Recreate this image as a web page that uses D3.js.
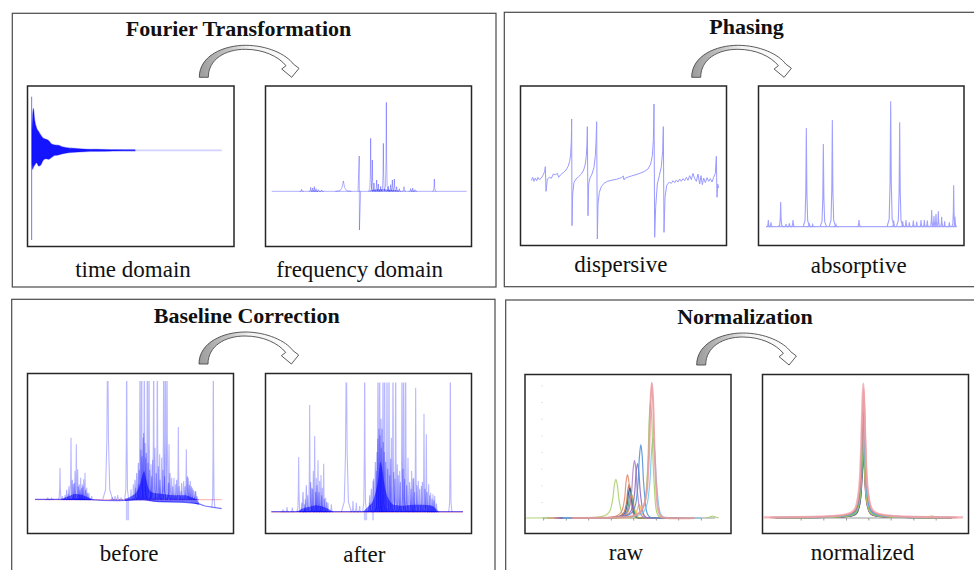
<!DOCTYPE html>
<html>
<head>
<meta charset="utf-8">
<script src="https://cdn.jsdelivr.net/npm/d3@7"></script>
<style>
  body { margin: 0; background: #fff; }
  text { font-family: "Liberation Serif", "Times New Roman", serif; fill: #111; }
</style>
</head>
<body>
<div id="chart"></div>
<script>
// ---------- data ----------
// time domain FID: envelope of the decaying signal (t in ms)
var fidTime  = [2, 6, 10, 18, 30, 42, 54, 70, 86, 102, 120, 140, 160, 180, 210, 250, 310, 390, 490, 620]
var fidUpper = [60, 101, 126, 91, 66, 56, 46, 36, 33, 29, 19, 16, 15, 11, 8, 6, 4, 3, 2, 1.5]
var fidLower = [-40, -57, -51, -44, -37, -47, -44, -29, -25, -27, -21, -15, -14, -11, -8, -6, -4, -3, -2, -1.5]
var fidSpike = [0, 161, -269]
var fidTail = [490, 1140]

// frequency domain (x in Hz, intensity a.u.) [position, height, half width]
var freqRange = [5950, 100]
var freqPeaks = [[5050, 6], [4780, 12], [4720, 10], [4670, 14], [4620, 8], [4550, 5], [4450, 4],
  [3800, 31, 40], [2980, 159], [2930, 94], [2880, 25], [2800, 34], [2750, 22], [2680, 15],
  [2600, 144], [2510, 267], [2450, 15], [2380, 20], [2330, 34], [2270, 37], [2200, 14],
  [2120, 8], [1980, 14], [1780, 8], [1720, 10], [1650, 5], [1070, 37]]
var freqDispersive = [[3320, 106, -116]]
var freqClusterX = [3050, 2950, 2800, 2600, 2400, 2200, 2050]
var freqClusterI = [0, 4, 6, 7, 5, 3, 0]

// phasing: dispersive trace [Hz, intensity]
var dispersiveTrace = [[5900, -2], [5860, 8], [5820, -4], [5780, 6], [5740, -2], [5700, 8], [5660, 1],
  [5600, 6], [5540, 16], [5500, 26], [5480, 40], [5460, -34], [5420, 3], [5360, 8], [5300, 5],
  [5240, 18], [5180, 16], [5120, 20], [5080, 8], [5020, 16], [4940, 22], [4860, 30], [4800, 40],
  [4750, 56], [4720, 78], [4700, 118], [4690, 183], [4680, -137], [4660, -42], [4620, -7],
  [4560, 3], [4480, 10], [4400, 18], [4330, 30], [4280, 48], [4250, 73], [4230, 108], [4220, 160],
  [4200, -107], [4180, -12], [4140, 6], [4080, 18], [4020, 38], [3980, 73], [3960, 113], [3940, 175],
  [3920, -177], [3900, -72], [3860, -37], [3800, -20], [3720, -10], [3620, -4], [3500, -1],
  [3350, 2], [3200, 7], [3140, 12], [3120, 0], [3080, 6], [2900, 12], [2700, 18], [2520, 25],
  [2400, 33], [2320, 48], [2270, 73], [2240, 118], [2220, 228], [2200, -172], [2170, -82],
  [2120, -12], [2060, 13], [2000, 40], [1960, 88], [1940, 160], [1920, -157], [1890, -52],
  [1840, -17], [1800, -10], [1750, -7], [1700, -10], [1650, -2], [1600, -8], [1550, 0],
  [1500, -6], [1450, 3], [1400, -4], [1350, 4], [1300, -2], [1250, 8], [1200, -1], [1150, 13],
  [1100, 1], [1050, 20], [1000, 4], [950, -4], [900, 18], [850, -12], [810, 13], [770, -14],
  [730, 6], [680, -8], [630, 7], [580, -4], [530, 4], [480, -6], [430, 8], [380, 20], [350, 71],
  [330, -52], [310, -12], [280, -24]]

// phasing: absorptive peaks [Hz, height, half width]
var absRange = [6000, 300]
var absPeaks = [[5930, 20, 10], [5850, 13, 10], [5560, 74, 12], [5400, 8, 12], [5300, 10, 12],
  [5190, 20, 12], [4790, 296, 16], [4700, 10, 12], [4600, 6, 12], [4280, 248, 16], [4010, 320, 16],
  [3900, 6, 12], [3210, 20, 12], [2260, 376, 18], [2170, 18, 12], [1990, 313, 16], [1900, 16, 12],
  [1800, 20, 10], [1700, 13, 10], [1580, 18, 10], [1480, 15, 10], [1350, 20, 10], [1250, 20, 10],
  [1160, 18, 10], [1030, 50, 10], [960, 32, 10], [900, 38, 10], [830, 46, 10], [730, 30, 10],
  [640, 16, 10], [500, 13, 10], [370, 124, 10], [330, 30, 10]]

// baseline correction: before
var beforeBase = [[6000, 1], [5300, 1], [4300, 0], [4000, -2], [3500, -3], [3300, -2], [2800, 0],
  [2300, -6], [1500, -8], [1100, -12], [900, -19], [400, -27]]
var beforeRed = [6000, 400]
var beforeDense = [
  [[5200, 2, 0], [4950, 12, 0], [4800, 17, -1], [4600, 15, -1], [4450, 9, -1], [4300, 3, -1]],
  [[3300, 3, -4], [3100, 11, -2], [2950, 24, 0], [2850, 46, 1], [2780, 72, 1], [2730, 86, 1],
   [2680, 68, 0], [2620, 42, -2], [2520, 24, -4], [2350, 19, -6], [2100, 16, -7], [1800, 13, -7],
   [1500, 13, -8], [1300, 7, -10], [1150, 1, -14], [1080, -10, -16]]]
var beforePeaks = [[5620, 6], [5500, 4], [5250, 96], [5180, 11], [5100, 14], [5000, 16], [4920, 186],
  [4850, 46], [4800, 86], [4760, 166], [4720, 91], [4670, 46], [4630, 66], [4580, 46], [4540, 61],
  [4500, 81], [4450, 36], [4380, 21], [4300, 11], [3820, 500, 25], [3680, 8], [3600, 11], [3520, 14],
  [3420, 6], [3250, 500], [3120, 31], [3050, 46], [2980, 36], [2900, 46], [2850, 500], [2800, 500],
  [2760, 186], [2720, 500], [2680, 126], [2630, 500], [2580, 500], [2520, 106], [2440, 500],
  [2400, 156], [2330, 500], [2260, 136], [2200, 126], [2140, 500], [2090, 500], [2040, 500],
  [1980, 166], [1900, 66], [1830, 66], [1780, 46], [1700, 218], [1620, 26], [1540, 56], [1460, 151],
  [1400, 66], [1340, 56], [1280, 36], [1200, 26], [1140, 11], [650, 500, 8, -24]]
var beforeCluster = [[5050, 30], [4980, 40], [4880, 60], [4820, 50], [4700, 40], [4650, 30], [4600, 35],
  [4560, 40], [4480, 30], [4420, 20], [3000, 60], [2950, 80], [2900, 110], [2870, 90], [2820, 150],
  [2790, 130], [2740, 200], [2700, 170], [2660, 140], [2610, 110], [2560, 90], [2500, 70], [2470, 120],
  [2360, 80], [2300, 100], [2250, 60], [2160, 90], [2110, 70], [2000, 50], [1950, 80], [1870, 40],
  [1750, 60], [1680, 40], [1600, 50], [1500, 40], [1430, 70], [1370, 45], [1310, 40], [1250, 30], [1180, 25]]
var beforeNeg = [[3250, -62], [3200, -62]]

// baseline correction: after
var afterBase = [[6050, 1], [300, 1]]
var afterRed = [6050, 300]
var afterDense = [
  [[5300, 0, 0], [5100, 11, 0], [4900, 16, 0], [4700, 20, 0], [4500, 16, 0], [4300, 7, 0], [4200, 1, 0]],
  [[3300, 1, 0], [3150, 16, 0], [3000, 34, 0], [2900, 68, 0], [2830, 108, 0], [2780, 150, 0],
   [2730, 134, 0], [2670, 92, 0], [2600, 56, 0], [2500, 34, 0], [2350, 21, 0], [2100, 19, 0],
   [1800, 22, 0], [1500, 22, 0], [1300, 20, 0], [1150, 13, 0], [1050, 2, 0]]]
var afterPeaks = [[5700, 8], [5580, 15], [5420, 13], [5230, 165], [5140, 28], [5050, 23], [5030, 38],
  [4900, 321], [4840, 73], [4790, 123], [4750, 228], [4700, 103], [4650, 155], [4600, 93],
  [4560, 111], [4520, 73], [4480, 145], [4420, 43], [4350, 28], [4250, 23], [3800, 500, 25],
  [3600, 33], [3500, 28], [3400, 18], [3250, 500], [3100, 28], [3000, 93], [2900, 123], [2850, 500],
  [2800, 500], [2750, 193], [2700, 500], [2650, 500], [2580, 500], [2520, 500], [2450, 223],
  [2400, 500], [2320, 500], [2270, 143], [2200, 123], [2130, 500], [2080, 500], [2020, 500],
  [1950, 163], [1840, 123], [1780, 103], [1720, 373], [1640, 93], [1550, 78], [1470, 295],
  [1400, 233], [1330, 83], [1270, 58], [1200, 53], [1150, 48], [680, 500, 8]]
var afterCluster = [[5100, 60], [5000, 80], [4960, 50], [4870, 90], [4810, 70], [4720, 60], [4680, 80],
  [4620, 60], [4540, 50], [4460, 40], [4390, 30], [3100, 50], [3050, 70], [2980, 100], [2930, 150],
  [2880, 180], [2860, 220], [2820, 250], [2790, 230], [2760, 280], [2730, 250], [2690, 210],
  [2660, 180], [2620, 150], [2560, 130], [2500, 110], [2470, 160], [2380, 120], [2340, 100],
  [2240, 110], [2180, 90], [2100, 130], [2050, 100], [1990, 80], [1900, 90], [1860, 70], [1800, 100],
  [1750, 60], [1680, 80], [1600, 70], [1520, 90], [1440, 70], [1380, 60], [1300, 50], [1230, 40],
  [1170, 35], [1100, 25]]
var afterNeg = [[3250, -25], [3200, -25], [3000, -25]]

// normalization: raw spectra (one peak each) [centre Hz, height, half width]
var rawCenter = [3500, 3100, 3150, 3080, 3050, 3020, 2800, 2940, 2850, 2750, 2380, 2460, 2420]
var rawHeight = [116, 100, 130, 90, 78, 68, 40, 173, 163, 220, 240, 350, 406]
var rawWidth  = [90, 75, 80, 70, 70, 70, 70, 80, 80, 80, 90, 75, 80]
var rawShapeU = [-16, -6, -3.5, -2.5, -2, -1.5, -1, -0.5, 0, 0.5, 1, 1.5, 2, 3, 4.5, 7, 12, 30]
var rawShapeF = [0, 0, 0.01, 0.05, 0.12, 0.28, 0.5, 0.85, 1, 0.85, 0.5, 0.3, 0.18, 0.09, 0.04, 0.015, 0.005, 0]
var rawAxis = [5700, 520]
var rawTicks = [5680, 5000, 4330, 3650, 2980, 2300, 1630, 950]
var rawYTicks = [398, 348, 298, 248, 198, 148, 98, 48]

// normalization: normalized spectra
var normCenter = [3200, 3195, 3205, 3200, 3210, 3195, 3200, 3205, 3200, 3190, 3200]
var normHeight = [183, 193, 203, 238, 263, 280, 293, 328, 353, 388, 403]
var normWidth  = [60, 60, 60, 58, 58, 58, 60, 60, 62, 64, 68]
var normShapeU = [-44, -20, -10, -6, -4, -3, -2, -1.5, -1, -0.5, 0, 0.5, 1, 1.5, 2, 3, 4, 6, 10, 20, 44]
var normShapeF = [0.004, 0.01, 0.02, 0.035, 0.06, 0.1, 0.2, 0.3, 0.5, 0.8, 1, 0.8, 0.5, 0.3, 0.2, 0.1, 0.06, 0.035, 0.02, 0.01, 0.004]
var normAxis = [5680, 550]
var normTicks = [5080, 4400, 3720, 3050, 2380, 1700, 1030]
var smallBumps = [[600, 6, 60], [1150, 6, 90]]

// shape of a single sharp resonance (offset in half widths, fraction of height)
var spikeU = [-6, -2.5, -1, 0, 1, 2.5, 6]
var spikeF = [0, 0.06, 0.35, 1, 0.35, 0.06, 0]

var titles = ['Fourier Transformation', 'Phasing', 'Baseline Correction', 'Normalization']
var labels = ['time domain', 'frequency domain', 'dispersive', 'absorptive', 'before', 'after', 'raw', 'normalized']

var rawColors = ['#a9d06c', '#b8683e', '#e3876a', '#2f4f8f', '#38a68a', '#f0a23a', '#f5b24a',
  '#a880c8', '#8a66b8', '#4a8fd6', '#6cc8f0', '#9fcc62', '#e8959c']
var normColors = ['#b8683e', '#2f4f8f', '#a880c8', '#38a68a', '#f2c230', '#a9d06c', '#6fb85a',
  '#6cc8f0', '#4a8fd6', '#e0604c', '#f0a8b0']

// ---------- drawing ----------
var svg = d3.select('#chart').append('svg').attr('width', 974).attr('height', 570)
var defs = svg.append('defs')

var grad = defs.append('linearGradient').attr('id', 'arrowFill')
  .attr('x1', 0).attr('x2', 1).attr('y1', 0).attr('y2', 0)
grad.append('stop').attr('offset', '0%').attr('stop-color', '#9c9c9c')
grad.append('stop').attr('offset', '30%').attr('stop-color', '#c4c4c4')
grad.append('stop').attr('offset', '50%').attr('stop-color', '#f2f2f2')
grad.append('stop').attr('offset', '100%').attr('stop-color', '#ffffff')

// outer boxes
var boxes = [[12.3, 13.3, 483.7, 273.7], [504.3, 12.3, 480, 274.4], [11.7, 299.3, 483.3, 290], [505.7, 300, 480, 290]]
svg.append('g').selectAll('rect').data(boxes).enter().append('rect')
  .attr('x', d => d[0]).attr('y', d => d[1]).attr('width', d => d[2]).attr('height', d => d[3])
  .attr('fill', 'none').attr('stroke', '#4a4a4a').attr('stroke-width', 1.2)

// titles
var titlePos = [[238.5, 36], [746.5, 33.5], [246.7, 323.3], [745, 324.3]]
svg.append('g').selectAll('text').data(titles).enter().append('text')
  .attr('x', (d, i) => titlePos[i][0]).attr('y', (d, i) => titlePos[i][1])
  .attr('text-anchor', 'middle').attr('font-size', 22).attr('font-weight', 'bold')
  .text(d => d)

// labels
var labelPos = [[133, 276.7], [359.7, 276.7], [620.8, 271.7], [858.7, 273.3], [129, 561], [364.3, 561.5], [626, 560], [862.5, 560]]
svg.append('g').selectAll('text').data(labels).enter().append('text')
  .attr('x', (d, i) => labelPos[i][0]).attr('y', (d, i) => labelPos[i][1])
  .attr('text-anchor', 'middle').attr('font-size', 23)
  .text(d => d)

// curved arrows
var arrowPath = 'M0,0 C0,-22 25,-32 46,-32 C68,-32 87,-23 94,-13.3 L99.7,-9 L92.4,0 L82.4,-8.3 L86.7,-11.6 C79,-21 64,-28 46,-28 C26,-28 9,-18 9,0 Z'
var arrowPos = [[199.3, 77.3], [691.7, 77.3], [199, 364], [696.7, 365]]
svg.append('g').selectAll('path').data(arrowPos).enter().append('path')
  .attr('transform', d => 'translate(' + d[0] + ',' + d[1] + ')')
  .attr('d', arrowPath).attr('fill', 'url(#arrowFill)')
  .attr('stroke', '#4a4a4a').attr('stroke-width', 0.9).attr('stroke-linejoin', 'round')

function panel(id, x, y, w, h, clipTop) {
  var g = svg.append('g').attr('transform', 'translate(' + x + ',' + y + ')')
  var top = clipTop || 1
  defs.append('clipPath').attr('id', 'clip-' + id).append('rect')
    .attr('x', 1).attr('y', top).attr('width', w - 2).attr('height', h - top - 1)
  var plot = g.append('g').attr('clip-path', 'url(#clip-' + id + ')')
  g.append('rect').attr('width', w).attr('height', h)
    .attr('fill', 'none').attr('stroke', '#262626').attr('stroke-width', 1.5)
  return plot
}

function spikePoints(p, U, F) {
  var hw = p[2] || 10
  var base = p[3] || 0
  return U.map((u, i) => [p[0] + u * hw, base + p[1] * F[i]])
}

// ---- Fourier: time domain
;(function() {
  var g = panel('fid', 27.5, 86, 206.5, 160.5)
  var x = d3.scaleLinear().domain([0, 1140]).range([4.17, 194.17])
  var y = d3.scaleLinear().domain([-288.5, 193]).range([160.5, 0])
  g.append('line')
    .attr('x1', x(fidTail[0])).attr('x2', x(fidTail[1])).attr('y1', y(0)).attr('y2', y(0))
    .attr('stroke', '#0000ff').attr('stroke-opacity', 0.18).attr('stroke-width', 1.6)
  g.append('line')
    .attr('x1', x(fidSpike[0])).attr('x2', x(fidSpike[0]))
    .attr('y1', y(fidSpike[1])).attr('y2', y(fidSpike[2]))
    .attr('stroke', '#0000ff').attr('stroke-opacity', 0.55).attr('stroke-width', 1)
  var area = d3.area()
    .x((d, i) => x(fidTime[i]))
    .y0((d, i) => y(fidLower[i]))
    .y1((d, i) => y(fidUpper[i]))
    .curve(d3.curveMonotoneX)
  g.append('path').datum(fidTime).attr('d', area)
    .attr('fill', '#0000ff').attr('fill-opacity', 0.92)
    .attr('stroke', '#0000ff').attr('stroke-opacity', 0.35).attr('stroke-width', 1.2)
})()

// ---- Fourier: frequency domain
;(function() {
  var g = panel('freq', 265.5, 86, 206, 160.5)
  var x = d3.scaleLinear().domain([6300, 0]).range([-5.5, 204.5])
  var y = d3.scaleLinear().domain([-165.5, 316]).range([160.5, 0])
  var line = d3.line().x(d => x(d[0])).y(d => y(d[1]))
  g.append('line').attr('x1', x(freqRange[0])).attr('x2', x(freqRange[1]))
    .attr('y1', y(0)).attr('y2', y(0))
    .attr('stroke', '#0000ff').attr('stroke-opacity', 0.3).attr('stroke-width', 1)
  g.append('path').datum(freqClusterX)
    .attr('d', d3.area().x(d => x(d)).y0(y(0)).y1((d, i) => y(freqClusterI[i])))
    .attr('fill', '#0000ff').attr('fill-opacity', 0.35)
  g.selectAll('.pk').data(freqPeaks).enter().append('path')
    .attr('d', d => line(spikePoints(d, spikeU, spikeF)))
    .attr('fill', 'none').attr('stroke', '#0000ff').attr('stroke-opacity', 0.3).attr('stroke-width', 1)
  g.selectAll('.dp').data(freqDispersive).enter().append('path')
    .attr('d', d => line([[d[0] + 40, 0], [d[0] + 3, d[1]], [d[0] - 3, d[2]], [d[0] - 40, 0]]))
    .attr('fill', 'none').attr('stroke', '#0000ff').attr('stroke-opacity', 0.3).attr('stroke-width', 1)
})()

// ---- Phasing: dispersive
;(function() {
  var g = panel('disp', 520.5, 86, 206, 159.5)
  var x = d3.scaleLinear().domain([6300, 0]).range([-2.5, 207.5])
  var y = d3.scaleLinear().domain([-196.5, 282]).range([159.5, 0])
  g.append('path').datum(dispersiveTrace)
    .attr('d', d3.line().x(d => x(d[0])).y(d => y(d[1])))
    .attr('fill', 'none').attr('stroke', '#9a9aff').attr('stroke-width', 1)
})()

// ---- Phasing: absorptive
;(function() {
  var g = panel('abs', 758.5, 86, 205.5, 159.5)
  var x = d3.scaleLinear().domain([6300, 0]).range([-2.5, 207.5])
  var y = d3.scaleLinear().domain([-56.5, 422]).range([159.5, 0])
  var line = d3.line().x(d => x(d[0])).y(d => y(d[1]))
  g.append('line').attr('x1', x(absRange[0])).attr('x2', x(absRange[1]))
    .attr('y1', y(0)).attr('y2', y(0)).attr('stroke', '#a8a8ff').attr('stroke-width', 1.1)
  g.selectAll('.pk').data(absPeaks).enter().append('path')
    .attr('d', d => line(spikePoints(d, spikeU, spikeF)))
    .attr('fill', 'none').attr('stroke', '#a0a0ff').attr('stroke-width', 1.1)
})()

function baselinePanel(id, px, py, yDomain, clipTop, base, red, dense, peaks, cluster, neg) {
  var g = panel(id, px, py, 206, 160, clipTop)
  var x = d3.scaleLinear().domain([6300, 0]).range([-2.5, 207.5])
  var y = d3.scaleLinear().domain(yDomain).range([160, 0])
  var line = d3.line().x(d => x(d[0])).y(d => y(d[1]))
  g.append('line').attr('x1', x(red[0])).attr('x2', x(red[1]))
    .attr('y1', y(0)).attr('y2', y(0))
    .attr('stroke', '#ff6b6b').attr('stroke-opacity', 0.45).attr('stroke-width', 1.3)
  g.append('path').datum(base).attr('d', line)
    .attr('fill', 'none').attr('stroke', '#0000ff').attr('stroke-opacity', 0.55).attr('stroke-width', 1.2)
  var area = d3.area().x(d => x(d[0])).y0(d => y(d[2])).y1(d => y(d[1])).curve(d3.curveMonotoneX)
  g.selectAll('.dense').data(dense).enter().append('path')
    .attr('d', area).attr('fill', '#0000ff').attr('fill-opacity', 0.55)
  g.selectAll('.cl').data(cluster).enter().append('path')
    .attr('d', d => line(spikePoints([d[0], d[1], 14], spikeU, spikeF)))
    .attr('fill', 'none').attr('stroke', '#0000ff').attr('stroke-opacity', 0.32).attr('stroke-width', 1.1)
  g.selectAll('.pk').data(peaks).enter().append('path')
    .attr('d', d => line(spikePoints(d, spikeU, spikeF)))
    .attr('fill', 'none').attr('stroke', '#0000ff').attr('stroke-opacity', 0.28).attr('stroke-width', 1.1)
  g.selectAll('.neg').data(neg).enter().append('line')
    .attr('x1', d => x(d[0])).attr('x2', d => x(d[0]))
    .attr('y1', y(0)).attr('y2', d => y(d[1]))
    .attr('stroke', '#0000ff').attr('stroke-opacity', 0.22).attr('stroke-width', 1.6)
}

baselinePanel('before', 27.5, 373.5, [-101.5, 378.5], 7.5, beforeBase, beforeRed, beforeDense, beforePeaks, beforeCluster, beforeNeg)
baselinePanel('after', 265.5, 373.5, [-64.5, 415.5], 9, afterBase, afterRed, afterDense, afterPeaks, afterCluster, afterNeg)

function normPanel(id, px, py, axisExt, ticks, yTicks, centers, heights, widths, U, F, colors, bump, sw) {
  var g = panel(id, px, py, 206, 159)
  var x = d3.scaleLinear().domain([6300, 0]).range([-2.5, 207.5])
  var y = d3.scaleLinear().domain([-46.5, 430.5]).range([159, 0])
  var xAxis = g.append('g').attr('transform', 'translate(0,' + y(0) + ')')
    .call(d3.axisBottom(x).tickValues(ticks).tickFormat('').tickSize(2.5))
  xAxis.select('.domain').remove()
  xAxis.selectAll('line').attr('stroke', '#999')
  g.append('line').attr('x1', x(axisExt[0])).attr('x2', x(axisExt[1]))
    .attr('y1', y(0)).attr('y2', y(0)).attr('stroke', '#999').attr('stroke-width', 1)
  if (yTicks) {
    var yAxis = g.append('g').attr('transform', 'translate(' + x(axisExt[0]) + ',0)')
      .call(d3.axisLeft(y).tickValues(yTicks).tickFormat('').tickSize(1))
    yAxis.select('.domain').remove()
    yAxis.selectAll('line').attr('stroke', '#ccc')
  }
  var line = d3.line().x(d => x(d[0])).y(d => y(d[1])).curve(d3.curveCatmullRom.alpha(0.5))
  g.selectAll('.bump').data(bump).enter().append('path')
    .attr('d', d => line(spikePoints(d, [-3, -1, 0, 1, 3], [0, 0.6, 1, 0.6, 0])))
    .attr('fill', 'none').attr('stroke', '#a9d06c').attr('stroke-width', 1.2)
  g.selectAll('.curve').data(centers).enter().append('path')
    .attr('d', (d, i) => line(spikePoints([d, heights[i], widths[i]], U, F)))
    .attr('fill', 'none').attr('stroke', (d, i) => colors[i])
    .attr('stroke-width', (d, i) => i === centers.length - 1 ? sw + 0.8 : sw)
    .attr('stroke-opacity', 0.85)
}

normPanel('raw', 525, 374.5, rawAxis, rawTicks, rawYTicks, rawCenter, rawHeight, rawWidth, rawShapeU, rawShapeF, rawColors, smallBumps.slice(0, 1), 1.2)
normPanel('norm', 762.5, 374.5, normAxis, normTicks, null, normCenter, normHeight, normWidth, normShapeU, normShapeF, normColors, smallBumps.slice(1), 1.4)
</script>
</body>
</html>
